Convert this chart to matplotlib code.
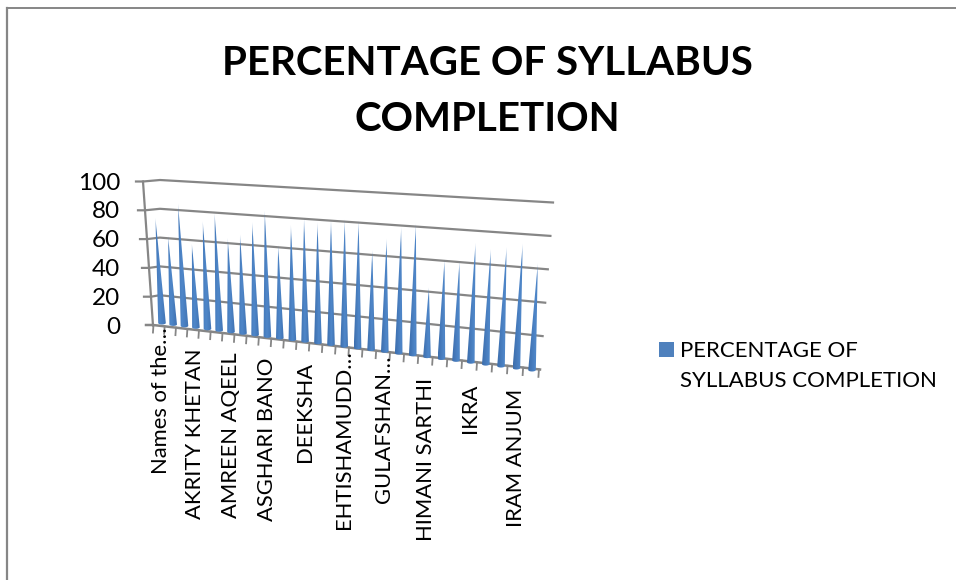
import numpy as np
import matplotlib
matplotlib.use("Agg")
import matplotlib.pyplot as plt
from matplotlib.patches import Polygon

plt.rcParams['font.family'] = ['Lato', 'DejaVu Sans']

TITLE = "PERCENTAGE OF SYLLABUS\nCOMPLETION"
LEGEND = "PERCENTAGE OF\nSYLLABUS COMPLETION"
Y_TICKS = [0, 20, 40, 60, 80, 100]
X_LABELS = ["Names of the…", "AKRITY KHETAN", "AMREEN AQEEL", "ASGHARI BANO", "DEEKSHA",
            "EHTISHAMUDD…", "GULAFSHAN…", "HIMANI SARTHI", "IKRA", "IRAM ANJUM"]
VALUES = [73, 61, 84, 57, 73, 79, 63, 66, 75, 83, 61, 75, 80, 78, 80, 81, 81, 63, 71, 79, 82,
          43, 61, 61, 73, 70, 72, 75, 64]

GREY = "#868686"
BLUE = "#4f81bd"


# fake perspective of the excel 3d chart, everything is in image pixels
def cat_x(i):
    return 162 + 11.11 * i / (1 - 0.00569 * i)


def base_y(i):
    return 323 + (cat_x(i) - 162) * 0.127


def edge_y(x):
    return 325 + (x - 153) * 0.115


def unit(i):
    return 1.44 + 0.23 * i / 28


def spike_tip(i, v):
    return cat_x(i) + v * 0.09 * (i - 14) / 14, base_y(i) - v * unit(i)


def wall_pt(side, v):
    if side == "left":
        return 152 - 0.003 * (100 - v), 324 - 1.44 * v
    return 540 + 0.13 * v, 369.5 - 1.67 * v


fig = plt.figure(figsize=(9.56, 5.80), dpi=100)
ax = fig.add_axes([0, 0, 1, 1])
ax.set_xlim(0, 956)
ax.set_ylim(580, 0)
ax.axis("off")

# chart frame
ax.plot([7, 7], [580, 7.5], color=GREY, lw=1.6)
ax.plot([7, 956], [7.5, 7.5], color=GREY, lw=1.4)

ax.text(487, 91.5, TITLE, ha="center", va="center", fontsize=29, fontweight="bold",
        color="black", linespacing=1.65)

# back wall grid lines and value axis
for v in Y_TICKS:
    xl, yl = wall_pt("left", v)
    xr, yr = wall_pt("right", v)
    left_x = 143 + (100 - v) * 0.1
    if v > 0:
        ax.plot([left_x - 7, left_x, xl + 8, xr], [yl + 1.5, yl + 1.5, yl, yr], color=GREY, lw=1.6,
                solid_joinstyle="round", zorder=1)
    else:
        # the zero line is the front edge of the floor
        ax.plot([left_x - 7, left_x, xr], [edge_y(left_x), edge_y(left_x), yr], color=GREY, lw=1.8,
                solid_joinstyle="round", zorder=1)
    ax.text(120, yl + 3, str(v), ha="right", va="center", fontsize=17.5, color="black")
ax.plot([143, 153], [wall_pt("left", 100)[1] + 1.5, wall_pt("left", 0)[1] + 1.5], color=GREY, lw=1.6, zorder=1)

# category ticks under the floor edge
edges = np.arange(-0.5, 29.5)
for e in edges:
    ex = cat_x(e) - 3 + 2 * (e + 0.5) / 29
    ey = edge_y(ex)
    ax.plot([ex, ex - 0.5], [ey, ey + 7.5], color=GREY, lw=1.3, zorder=1)

# shading of a single cone, light on the left and fading out at the tip
h, w = 120, 24
shade = np.ones((h, w, 4))
across = np.linspace(0, 1, w)
base_col = np.array([0.31, 0.53, 0.79])
dark_col = np.array([0.20, 0.38, 0.62])
for c in range(3):
    shade[:, :, c] = base_col[c] + (dark_col[c] - base_col[c]) * np.abs(across - 0.55) * 1.2
shade[:, :, 3] = np.clip(np.linspace(0.35, 5.5, h), 0, 1)[:, None]

for i, v in enumerate(VALUES):
    bx, by = cat_x(i), base_y(i)
    tx, ty = spike_tip(i, v)
    hw = 3.8
    angs = np.linspace(0, np.pi, 12)
    pts = [(tx, ty)] + [(bx + hw * np.cos(a), by + 1.5 * np.sin(a)) for a in angs]
    poly = Polygon(pts, closed=True, transform=ax.transData, facecolor="none", edgecolor="none")
    ax.add_patch(poly)
    im = ax.imshow(shade, extent=[min(tx, bx) - hw, max(tx, bx) + hw, by + 2, ty], aspect="auto",
                   interpolation="bilinear", zorder=3)
    im.set_clip_path(poly)
ax.set_xlim(0, 956)
ax.set_ylim(580, 0)

for n, lab in enumerate(X_LABELS):
    i = n * 3
    # truncated labels run closer to the axis
    off = 4 if lab.endswith("…") else 21
    ax.text(cat_x(i) - 0.5, base_y(i) + off, lab, rotation=90, ha="center", va="top",
            fontsize=15.8, color="black")

# legend
ax.add_patch(plt.Rectangle((659, 342), 15, 15, facecolor=BLUE, edgecolor="none"))
ax.text(680, 366, LEGEND, ha="left", va="center", fontsize=16, color="black", linespacing=1.58)

fig.savefig("out.png", dpi=100)
